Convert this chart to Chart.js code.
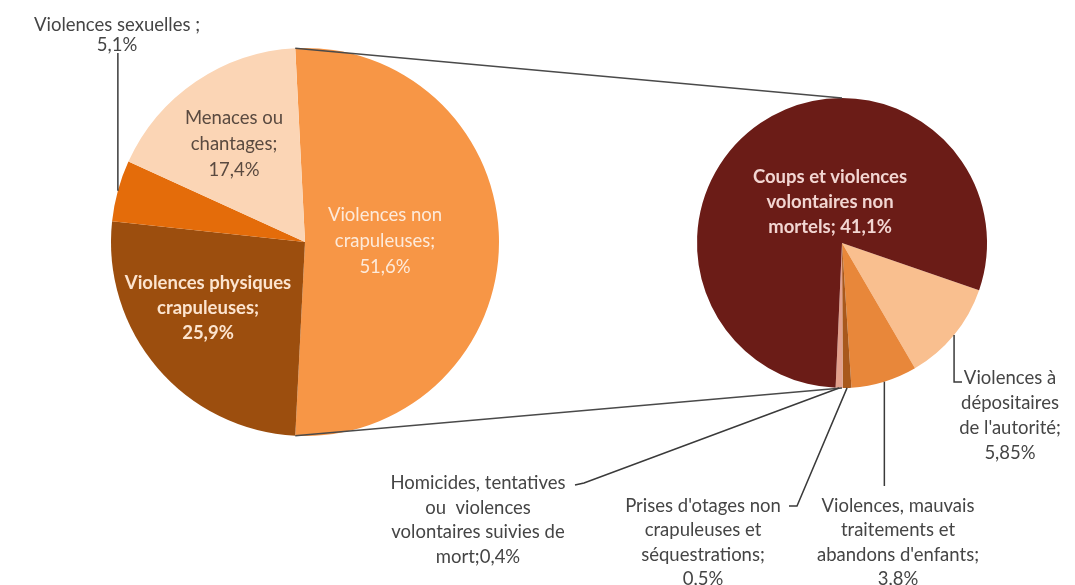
<!DOCTYPE html>
<html>
<head>
<meta charset="utf-8">
<script src="https://cdn.jsdelivr.net/npm/chart.js@4.4.1/dist/chart.umd.min.js"></script>
<style>
  html, body { margin: 0; padding: 0; background: #fff; }
  #wrap { position: relative; width: 1075px; height: 585px; }
  #wrap canvas { position: absolute; left: 0; top: 0; }
</style>
</head>
<body>
<div id="wrap">
  <canvas id="mainPie" width="1075" height="585"></canvas>
  <canvas id="detailPie" width="1075" height="585"></canvas>
</div>
<script>
// main pie: the first slice is split into the small pie on the right
const mainLabels = ["Violences non crapuleuses", "Violences physiques crapuleuses", "Violences sexuelles", "Menaces ou chantages"]
const mainValues = [51.6, 25.9, 5.1, 17.4]
const mainColors = ["#F79646", "#9C4E0E", "#E46C0A", "#FBD5B5"]
const mainText = [
  ["Violences non", "crapuleuses;", "{v}"],
  ["Violences physiques", "crapuleuses;", "{v}"],
  ["Violences sexuelles ;", "{v}"],
  ["Menaces ou", "chantages;", "{v}"]
]

const detailLabels = [
  "Violences à dépositaires de l'autorité",
  "Violences, mauvais traitements et abandons d'enfants",
  "Prises d'otages non crapuleuses et séquestrations",
  "Homicides, tentatives ou violences volontaires suivies de mort",
  "Coups et violences volontaires non mortels"
]
const detailValues = [5.85, 3.8, 0.5, 0.4, 41.1]
const detailColors = ["#F9BF8F", "#E8873A", "#A8581C", "#E3A08C", "#6B1C17"]
const detailText = [
  ["Violences à", "dépositaires", "de l'autorité;", "{v}"],
  ["Violences, mauvais", "traitements et", "abandons d'enfants;", "{v}"],
  ["Prises d'otages non", "crapuleuses et", "séquestrations;", "{v}"],
  ["Homicides, tentatives", "ou  violences", "volontaires suivies de", "mort;{v}"],
  ["Coups et violences", "volontaires non", "mortels; {v}"]
]

const FONT = "Lato, 'Open Sans', sans-serif"
const SIZE = 18.5

// where each label block sits (x = centre, y = first line) and how its leader runs
const mainLayout = [
  { x: 385, y: 215, lh: 26, color: "#FDEADA" },
  { x: 208, y: 283, lh: 25, color: "#FCE4CF", bold: true },
  { x: 117, y: 25, lh: 20, color: "#454545", leader: [[null, 53]] },
  { x: 234, y: 118, lh: 26, color: "#5A4A40" }
]
const detailLayout = [
  { x: 1010, y: 378, lh: 25, color: "#454545", leader: [[null, 382], [962, 382]] },
  { x: 898, y: 506, lh: 24.3, color: "#454545", leader: [[null, 486]] },
  { x: 703, y: 506, lh: 24.5, color: "#454545", leader: [[797, 506], [789, 506]] },
  { x: 478, y: 483, lh: 24.7, color: "#454545", leader: [[584, 483], [575, 485]] },
  { x: 830, y: 177, lh: 25, color: "#F2D6D2", bold: true }
]

const fmt = (v) => String(v).replace(".", ",") + "%"

function edgePoint(arc) {
  const a = (arc.startAngle + arc.endAngle) / 2
  return [arc.x + Math.cos(a) * arc.outerRadius, arc.y + Math.sin(a) * arc.outerRadius]
}

function drawLabels(chart, values, texts, layout) {
  const ctx = chart.ctx
  const arcs = chart.getDatasetMeta(0).data
  ctx.save()
  arcs.forEach((arc, i) => {
    const l = layout[i]
    if (l.leader) {
      const start = edgePoint(arc)
      ctx.beginPath()
      ctx.strokeStyle = "#3a3a3a"
      ctx.lineWidth = 1.5
      ctx.moveTo(start[0], start[1])
      l.leader.forEach((p) => ctx.lineTo(p[0] === null ? start[0] : p[0], p[1]))
      ctx.stroke()
    }
    ctx.font = (l.bold ? "bold " : "") + SIZE + "px " + FONT
    ctx.fillStyle = l.color
    ctx.textAlign = "center"
    ctx.textBaseline = "middle"
    texts[i].forEach((line, k) => {
      ctx.fillText(line.replace("{v}", fmt(values[i])), l.x, l.y + k * l.lh)
    })
  })
  ctx.restore()
}

const total = mainValues.reduce((a, b) => a + b, 0)

const mainChart = new Chart(document.getElementById("mainPie"), {
  type: "pie",
  data: {
    labels: mainLabels,
    datasets: [{ data: mainValues, backgroundColor: mainColors, borderWidth: 0 }]
  },
  options: {
    responsive: false,
    animation: false,
    events: [],
    rotation: 90 - (mainValues[0] / total) * 180,
    layout: { padding: { left: 111, right: 576, top: 48, bottom: 149 } },
    plugins: { legend: { display: false }, tooltip: { enabled: false } }
  },
  plugins: [{
    id: "mainLabels",
    afterDraw: (chart) => drawLabels(chart, mainValues, mainText, mainLayout)
  }]
})

new Chart(document.getElementById("detailPie"), {
  type: "pie",
  data: {
    labels: detailLabels,
    datasets: [{ data: detailValues, backgroundColor: detailColors, borderWidth: 0 }]
  },
  options: {
    responsive: false,
    animation: false,
    events: [],
    rotation: 109,
    layout: { padding: { left: 697, right: 88, top: 98, bottom: 197 } },
    plugins: { legend: { display: false }, tooltip: { enabled: false } }
  },
  plugins: [{
    id: "connectors",
    afterDraw: (chart) => {
      // lines from the split slice of the main pie to the top and bottom of this one
      const big = mainChart.getDatasetMeta(0).data[0]
      const small = chart.getDatasetMeta(0).data[0]
      const ctx = chart.ctx
      ctx.save()
      ctx.strokeStyle = "#4a4a4a"
      ctx.lineWidth = 1.5
      ;[big.startAngle, big.endAngle].forEach((a, k) => {
        ctx.beginPath()
        ctx.moveTo(big.x + Math.cos(a) * big.outerRadius, big.y + Math.sin(a) * big.outerRadius)
        ctx.lineTo(small.x, small.y + (k === 0 ? -1 : 1) * small.outerRadius)
        ctx.stroke()
      })
      ctx.restore()
      drawLabels(chart, detailValues, detailText, detailLayout)
    }
  }]
})
</script>
</body>
</html>
